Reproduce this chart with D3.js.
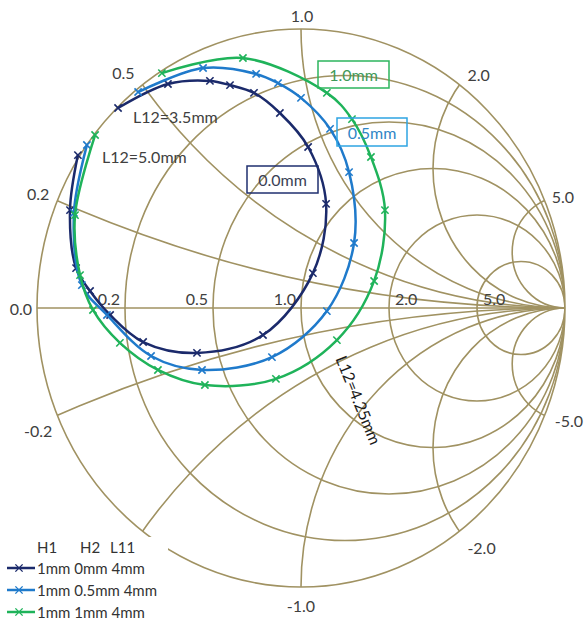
<!DOCTYPE html>
<html><head><meta charset="utf-8">
<script src="https://cdn.jsdelivr.net/npm/d3@7"></script>
<style>body{margin:0;background:#fff}text{font-family:Lato,"Open Sans",sans-serif}</style>
</head><body><svg id="c" width="585" height="621"></svg>
<script>
// ---- data (Smith chart, reflection coefficient Re/Im) ----
const resistanceValues = [0.2, 0.5, 1, 2, 5];
const reactanceValues = [0.2, 0.5, 1, 2, 5, -0.2, -0.5, -1, -2, -5];
const rimLabelValues = [0.2, 0.5, 1, 2, 5, -0.2, -1, -2, -5];
const rimLabelTexts = ["0.2", "0.5", "1.0", "2.0", "5.0", "-0.2", "-1.0", "-2.0", "-5.0"];
const axisLabelValues = [0, 0.2, 0.5, 1, 2, 5];
const axisLabelTexts = ["0.0", "0.2", "0.5", "1.0", "2.0", "5.0"];

const seriesNames = ["1mm 0mm 4mm", "1mm 0.5mm 4mm", "1mm 1mm 4mm"];
const legendHeader = ["H1", "H2", "L11"];
const navyRe = [-0.693,-0.504,-0.345,-0.269,-0.178,-0.080,0.027,0.095,0.045,-0.144,-0.394,-0.598,-0.723,-0.799,-0.852,-0.875,-0.845];
const navyIm = [0.717,0.803,0.814,0.799,0.771,0.699,0.577,0.373,0.125,-0.097,-0.161,-0.122,-0.025,0.061,0.143,0.351,0.548];
const blueRe = [-0.617,-0.371,-0.170,-0.087,0.000,0.110,0.182,0.201,0.098,-0.110,-0.375,-0.568,-0.735,-0.830,-0.860,-0.811];
const blueIm = [0.774,0.860,0.839,0.806,0.753,0.642,0.487,0.233,-0.011,-0.176,-0.222,-0.172,-0.025,0.082,0.341,0.584];
const greenRe = [-0.527,-0.220,0.098,0.193,0.265,0.318,0.277,0.136,-0.095,-0.364,-0.542,-0.686,-0.788,-0.837,-0.856,-0.780];
const greenIm = [0.842,0.896,0.771,0.677,0.541,0.351,0.097,-0.115,-0.254,-0.276,-0.222,-0.125,-0.007,0.118,0.333,0.620];

const annotations = ["L12=3.5mm", "L12=5.0mm", "L12=4.25mm"];
const boxLabels = ["0.0mm", "0.5mm", "1.0mm"];

// ---- layout ----
const svg = d3.select("#c");
const cx = 301, cy = 308, rx = 264, ry = 279;
const x = d3.scaleLinear().domain([-1, 1]).range([cx - rx, cx + rx]);
const y = d3.scaleLinear().domain([-1, 1]).range([cy + ry, cy - ry]);
const gridColor = "#a09262";
const textColor = "#404040";
const colors = ["#1b2a6b", "#1f7acb", "#1fb35a"];

svg.append("defs").append("clipPath").attr("id", "unit")
  .append("ellipse").attr("cx", x(0)).attr("cy", y(0)).attr("rx", x(1) - x(0)).attr("ry", y(0) - y(1));

const grid = svg.append("g").attr("clip-path", "url(#unit)")
  .attr("fill", "none").attr("stroke", gridColor).attr("stroke-width", 1.6);

function ell(g, a, b, R) {
  g.append("ellipse").attr("cx", x(a)).attr("cy", y(b))
    .attr("rx", x(R) - x(0)).attr("ry", y(0) - y(R));
}
resistanceValues.forEach(r => ell(grid, r / (1 + r), 0, 1 / (1 + r)));
reactanceValues.forEach(v => ell(grid, 1, 1 / v, 1 / Math.abs(v)));

// outer circle and real axis
const frame = svg.append("g").attr("fill", "none").attr("stroke", gridColor).attr("stroke-width", 1.6);
ell(frame, 0, 0, 1);
frame.append("line").attr("x1", x(-1)).attr("x2", x(1)).attr("y1", y(0)).attr("y2", y(0));

// rim labels
const nudge = {"0.2":[-8,-7],"0.5":[-8,-12],"1.0":[1,-14],"2.0":[8,-10],"5.0":[7,-4],
  "-0.2":[-5,15],"-1.0":[0,18],"-2.0":[8,16],"-5.0":[10,5]};
rimLabelValues.forEach((v, i) => {
  const gr = (v * v - 1) / (v * v + 1), gi = 2 * v / (v * v + 1);
  const t = rimLabelTexts[i], n = nudge[t];
  const anchor = gr < -0.1 ? "end" : (gr > 0.1 ? "start" : "middle");
  svg.append("text").attr("x", x(gr) + n[0]).attr("y", y(gi) + n[1])
    .attr("text-anchor", anchor).attr("dominant-baseline", "central")
    .attr("font-size", 16).attr("fill", textColor).text(t);
});
// real-axis labels
axisLabelValues.forEach((r, i) => {
  const left = (r - 1) / (r + 1);
  const px = x(left);
  const sel = svg.append("text").attr("font-size", 16).attr("fill", textColor)
    .attr("dominant-baseline", "central").text(axisLabelTexts[i]);
  if (r === 0) sel.attr("x", px - 5).attr("y", y(0)).attr("text-anchor", "end");
  else if (r <= 1) sel.attr("x", px - 5).attr("y", y(0) - 10).attr("text-anchor", "end");
  else sel.attr("x", px + 6).attr("y", y(0) - 10).attr("text-anchor", "start");
});

// ---- curves ----
const seriesData = [
  d3.zip(navyRe, navyIm), d3.zip(blueRe, blueIm), d3.zip(greenRe, greenIm)
];
const line = d3.line().x(d => x(d[0])).y(d => y(d[1])).curve(d3.curveCatmullRom.alpha(0.5));
const sym = d3.symbol().type(d3.symbolX).size(36);
seriesData.forEach((pts, i) => {
  svg.append("path").attr("d", line(pts)).attr("fill", "none")
    .attr("stroke", colors[i]).attr("stroke-width", 2.5);
  svg.append("g").selectAll("path").data(pts).join("path")
    .attr("d", sym).attr("transform", d => `translate(${x(d[0])},${y(d[1])})`)
    .attr("fill", "none").attr("stroke", colors[i]).attr("stroke-width", 1.6);
});

// ---- annotations ----
svg.append("text").attr("x", 133).attr("y", 116).attr("dominant-baseline", "central")
  .attr("font-size", 16).attr("fill", textColor).text(annotations[0]);
svg.append("text").attr("x", 102).attr("y", 156).attr("dominant-baseline", "central")
  .attr("font-size", 16).attr("fill", textColor).text(annotations[1]);
svg.append("text").attr("transform", "translate(359,400) rotate(68)")
  .attr("text-anchor", "middle").attr("dominant-baseline", "central")
  .attr("font-size", 16).attr("fill", "#1a1a1a").text(annotations[2]);

const boxes = [
  {x0: 247, y0: 166, w: 71, h: 27, stroke: "#1f2f6f", fill: "#3a3f55"},
  {x0: 337, y0: 118, w: 70, h: 28, stroke: "#2ea4e2", fill: "#2f86c6"},
  {x0: 318, y0: 61, w: 71, h: 27, stroke: "#2db55d", fill: "#3f9a5a"}
];
boxes.forEach((b, i) => {
  svg.append("rect").attr("x", b.x0).attr("y", b.y0).attr("width", b.w).attr("height", b.h)
    .attr("fill", "none").attr("stroke", b.stroke).attr("stroke-width", 1.5);
  svg.append("text").attr("x", b.x0 + b.w / 2).attr("y", b.y0 + b.h / 2)
    .attr("text-anchor", "middle").attr("dominant-baseline", "central")
    .attr("font-size", 16).attr("fill", b.fill).text(boxLabels[i]);
});

// ---- legend ----
const lg = svg.append("g");
lg.append("rect").attr("x", 0).attr("y", 537).attr("width", 168).attr("height", 84).attr("fill", "#fff");
const hx = [37, 80, 110];
legendHeader.forEach((h, i) => lg.append("text").attr("x", hx[i]).attr("y", 547)
  .attr("dominant-baseline", "central").attr("font-size", 15).attr("fill", "#333").text(h));
seriesNames.forEach((s, i) => {
  const yy = 568 + i * 22;
  lg.append("line").attr("x1", 7).attr("x2", 35).attr("y1", yy).attr("y2", yy)
    .attr("stroke", colors[i]).attr("stroke-width", 2.5);
  lg.append("path").attr("d", sym).attr("transform", `translate(19,${yy})`)
    .attr("fill", "none").attr("stroke", colors[i]).attr("stroke-width", 1.4);
  lg.append("text").attr("x", 37).attr("y", yy).attr("dominant-baseline", "central")
    .attr("font-size", 15).attr("fill", "#333").text(s);
});
</script></body></html>
